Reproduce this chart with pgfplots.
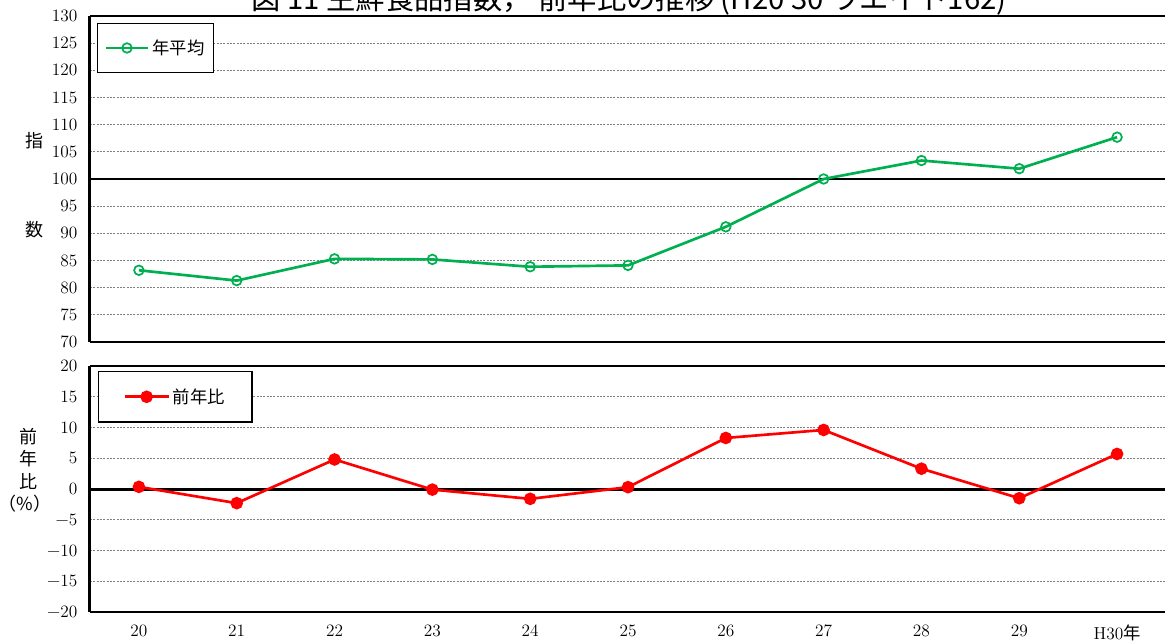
\documentclass[border=0pt]{standalone}
\usepackage{amsmath}
\usepackage{fontspec}
\usepackage{pgfplots}
\pgfplotsset{compat=1.18}
\newfontfamily\cjk{Noto Sans CJK JP}
\definecolor{mygreen}{RGB}{0,176,80}
\definecolor{myred}{RGB}{255,0,0}
\newcommand{\tl}[1]{\text{\fontsize{13}{15}\selectfont #1}}
\begin{document}
\begin{tikzpicture}
\pgfplotsset{
 common/.style={
  scale only axis, width=807pt, xmin=19.5, xmax=30.5,
  axis x line*=box, axis y line*=left,
  x axis line style={black, line width=1.5pt},
  y axis line style={black, line width=2.25pt},
  ymajorgrids, major grid style={gray, dash pattern=on 1.5pt off 1pt, line width=0.6pt},
  major tick length=0pt,
  xtick={20,...,30},
  yticklabel style={xshift=-6pt},
  xticklabel style={yshift=-6pt},
  legend cell align=left,
  legend style={draw=black, line width=1pt, nodes={inner sep=2pt},
    font=\cjk\fontsize{13}{15}\selectfont},
 }
}
% top panel
\begin{axis}[common, at={(67.5pt,-12pt)}, anchor=north west, height=244.5pt,
  ymin=70, ymax=130, ytick={70,75,...,130},
  yticklabels={\tl{70},\tl{75},\tl{80},\tl{85},\tl{90},\tl{95},\tl{100},\tl{105},\tl{110},\tl{115},\tl{120},\tl{125},\tl{130}},
  xticklabels={},
  extra y ticks={100}, extra y tick labels={},
  extra y tick style={major grid style={solid, black, line width=2pt}},
  legend image code/.code={\draw[mark repeat=2,mark phase=2] plot coordinates {(0pt,0pt)(16pt,0pt)(32pt,0pt)};},
  legend style={at={(0,1)}, anchor=north west, xshift=5.25pt, yshift=-5.25pt,
    inner xsep=5pt, inner ysep=10pt}]
\addplot[mygreen, line width=2pt, mark=o, mark size=3.6pt, mark options={line width=1.3pt, fill=white}]
 coordinates {(20,83.2) (21,81.3) (22,85.3) (23,85.2) (24,83.85) (25,84.1) (26,91.2) (27,100.0) (28,103.4) (29,101.9) (30,107.7)};
\addlegendentry{年平均}
\end{axis}
% bottom panel
\begin{axis}[common, at={(67.5pt,-274.5pt)}, anchor=north west, height=184.5pt,
  ymin=-20, ymax=20, ytick={-20,-15,...,20},
  yticklabels={\tl{−20},\tl{−15},\tl{−10},\tl{−5},\tl{0},\tl{5},\tl{10},\tl{15},\tl{20}},
  xticklabels={\tl{20},\tl{21},\tl{22},\tl{23},\tl{24},\tl{25},\tl{26},\tl{27},\tl{28},\tl{29},{\tl{H30\cjk{年}}}},
  extra y ticks={0}, extra y tick labels={},
  extra y tick style={major grid style={solid, black, line width=2.25pt}},
  legend image code/.code={\draw[mark repeat=2,mark phase=2] plot coordinates {(0pt,0pt)(16.5pt,0pt)(33pt,0pt)};},
  legend style={at={(0,1)}, anchor=north west, xshift=6pt, yshift=-3.75pt,
    inner xsep=18.5pt, inner ysep=10.6pt}]
\addplot[myred, line width=2pt, mark=*, mark size=3.7pt]
 coordinates {(20,0.35) (21,-2.3) (22,4.8) (23,-0.1) (24,-1.6) (25,0.3) (26,8.3) (27,9.6) (28,3.3) (29,-1.5) (30,5.7)};
\addlegendentry{前年比}
\end{axis}
% axis labels
\node[font=\cjk\fontsize{13.5}{15}\selectfont] at (26.25pt,-105.75pt) {指};
\node[font=\cjk\fontsize{13.5}{15}\selectfont] at (26.25pt,-172.5pt) {数};
\node[font=\cjk\fontsize{13.5}{15}\selectfont] at (21pt,-327.75pt) {前};
\node[font=\cjk\fontsize{13.5}{15}\selectfont] at (21pt,-344.25pt) {年};
\node[font=\cjk\fontsize{13.5}{15}\selectfont] at (21pt,-361.5pt) {比};
\node[font=\cjk\fontsize{13.5}{15}\selectfont] at (18.75pt,-378pt) {（\%）};
% title (cut at the top as in the reference)
\node[anchor=base, font=\cjk\fontsize{22}{24}\selectfont] at (471.75pt,-7.2pt) {図 11 生鮮食品指数， 前年比の推移 (H20~30 ウエイト162)};
\pgfresetboundingbox
\useasboundingbox (0pt,0pt) rectangle (873.75pt,-482.25pt);
\end{tikzpicture}
\end{document}
